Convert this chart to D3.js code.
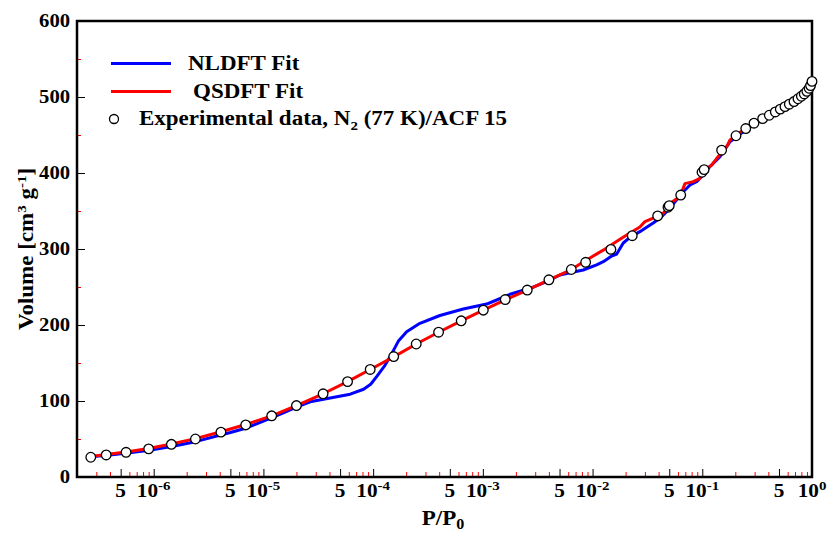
<!DOCTYPE html>
<html><head><meta charset="utf-8">
<script src="https://cdn.jsdelivr.net/npm/d3@7"></script>
<style>
body{margin:0;background:#fff}
text{font-family:"Liberation Serif","Times New Roman",serif;font-weight:bold;fill:#000}
</style>
</head><body><svg id="c" width="831" height="533"></svg>
<script>
// ---- data ----
const expP = [2.67e-7,3.69e-7,5.6e-7,9.0e-7,1.45e-6,2.4e-6,4.1e-6,6.9e-6,1.19e-5,2.0e-5,3.5e-5,5.85e-5,9.4e-5,1.54e-4,2.47e-4,3.95e-4,6.35e-4,1.01e-3,1.6e-3,2.54e-3,4.0e-3,6.4e-3,8.65e-3,1.47e-2,2.3e-2,3.92e-2,4.87e-2,5.0e-2,6.36e-2,9.94e-2,0.104,0.150,0.203,0.249,0.296,0.355,0.408,0.463,0.514,0.567,0.621,0.685,0.745,0.80,0.85,0.897,0.94,0.97,1.0];
const expV = [26,29,32.5,37,43,50,59,68.5,80.5,94,109.5,125.5,141.5,158.5,175,190.5,205.5,219.5,233.5,246,259.5,273,282.5,299.5,317.5,343.5,355,357,371,401,404.5,430,449,458.5,465.5,471.5,476,480.3,484,487.3,490.5,494,497.7,501,504,507.5,511.5,515,520.5];

const qsP = [2.67e-7,3.69e-7,5.6e-7,9.0e-7,1.45e-6,2.4e-6,4.1e-6,6.9e-6,1.19e-5,2.0e-5,3.5e-5,5.85e-5,9.4e-5,1.54e-4,2.47e-4,3.95e-4,6.35e-4,1.01e-3,1.6e-3,2.54e-3,4.0e-3,6.4e-3,8.22e-3,1.25e-2,1.72e-2,2.05e-2,2.70e-2,3.0e-2,3.57e-2,4.41e-2,5.07e-2,6.27e-2,6.95e-2,8.28e-2,9.53e-2,0.1057,0.122,0.135,0.167,0.179,0.206,0.237,0.272,0.30,0.355,0.41,0.50,0.60,0.70,0.80,0.90,0.95,1.0];
const qsV = [27,29.5,33,37.5,43.5,50.5,59.5,69,80.5,94,109.5,125.5,141.5,158,175,190.5,205.5,219.5,233,246,259.5,273,283,298.5,311.5,318.5,329,336,340.5,347,360,369,386,388.6,393,404,410.5,419,434.6,443.4,450,456.6,463,466.5,471.5,476,483,489,494.5,500.5,507,511,518];

const nlP = [2.67e-7,4e-7,6e-7,1e-6,1.5e-6,2.4e-6,4e-6,5e-6,7e-6,8e-6,1.2e-5,1.5e-5,2.0e-5,2.67e-5,4.06e-5,6.18e-5,8.19e-5,9.5e-5,1.077e-4,1.282e-4,1.475e-4,1.694e-4,2.02e-4,2.67e-4,4.06e-4,6.62e-4,1.084e-3,1.336e-3,1.767e-3,2.69e-3,3.82e-3,5.05e-3,6.22e-3,8.22e-3,1.089e-2,1.253e-2,1.494e-2,1.66e-2,1.905e-2,2.19e-2,2.70e-2,3.11e-2,3.57e-2,4.26e-2,5.08e-2,5.64e-2,6.71e-2,7.73e-2,8.89e-2,0.102,0.1175,0.135,0.145,0.179,0.206,0.25,0.30,0.355,0.41,0.50,0.60,0.70,0.80,0.90,0.95,1.0];
const nlV = [26.5,29,32,36,40.5,46.5,55,58.5,64.5,68,78,84,92,99,104,109,115.5,122,132,147,162,178.5,191.2,202.2,212.5,221,227.6,232.9,240.4,248.3,257,265.8,268.8,272.4,279,283.3,290.8,293.4,307.9,315.4,322.8,328.6,334.2,342.5,353.6,362.2,375.4,384.2,388.6,397.4,408.6,417,421.4,441.2,447.8,457,465,471,475.5,482,488,493.5,499.5,506,510,517];

const yTicks = [0,100,200,300,400,500,600];
const yMinorTicks = [50,150,250,350,450,550];
const xExponents = [-6,-5,-4,-3,-2,-1,0];
const fiveLabel = "5";
const legendLabels = ["NLDFT Fit","QSDFT Fit","Experimental data, N","2"," (77 K)/ACF 15"];
const colors = {nl:"#0000ff", qs:"#ff0000"};

// ---- layout ----
const W=831,H=533,L=77,R=812,T=21,B=477, SX=1.15;
const svg=d3.select("#c");
svg.append("rect").attr("width",W).attr("height",H).attr("fill","#fff");
const x=d3.scaleLog().domain([2e-7,1]).range([L,R]);
const y=d3.scaleLinear().domain([0,600]).range([B,T]);

const xMinor=[],xMajor=[];
for(let e=-7;e<=0;e++){for(let m=1;m<=9;m++){const v=m*Math.pow(10,e);if(v<2.01e-7||v>1.0001)continue;(m===1||m===5?xMajor:xMinor).push(v);}}

function clean(g){g.select(".domain").remove();g.attr("font-family",null).attr("font-size",null);}
svg.append("g").attr("transform",`translate(0,${B})`)
  .call(d3.axisBottom(x).tickValues(xMinor).tickSize(-5).tickFormat(""))
  .call(clean).selectAll("line").attr("stroke",colors.qs).attr("stroke-width",1);
svg.append("g").attr("transform",`translate(0,${B})`)
  .call(d3.axisBottom(x).tickValues(xMajor).tickSize(-8).tickFormat(""))
  .call(clean).selectAll("line").attr("stroke","#000").attr("stroke-width",1);
svg.append("g").attr("transform",`translate(${L},0)`)
  .call(d3.axisLeft(y).tickValues(yMinorTicks).tickSize(-4).tickFormat(""))
  .call(clean).selectAll("line").attr("stroke",colors.qs).attr("stroke-width",1);
const yg=svg.append("g").attr("transform",`translate(${L},0)`)
  .call(d3.axisLeft(y).tickValues(yTicks).tickSize(-8).tickPadding(6).tickFormat(d3.format("d")))
  .call(clean);
yg.selectAll("line").attr("stroke","#000").attr("stroke-width",1);
yg.selectAll("text").style("font-size","18px").attr("fill","#000").attr("transform",`scale(${SX},1)`);

// helper: stretched text at (px,py)
function stext(parent,px,py,size,anchor){
  return parent.append("text").attr("transform",`translate(${px},${py}) scale(${SX},1)`)
    .attr("text-anchor",anchor||"start").style("font-size",size+"px");
}

// x tick labels
const xl=svg.append("g");
xExponents.forEach(e=>{
  stext(xl,x(5*Math.pow(10,e-1)),497,18.5,"middle").text(fiveLabel);
  const t=stext(xl,x(Math.pow(10,e)),497,18.5,"middle");
  t.append("tspan").text("10");
  t.append("tspan").attr("dy",-7).style("font-size","13px").text(String(e));
});

// frame
svg.append("rect").attr("x",L).attr("y",T).attr("width",R-L).attr("height",B-T)
  .attr("fill","none").attr("stroke","#000").attr("stroke-width",2.5);

// curves
const line=d3.line().x(d=>x(d[0])).y(d=>y(d[1]));
svg.append("path").datum(d3.zip(nlP,nlV)).attr("d",line).attr("fill","none").attr("stroke",colors.nl).attr("stroke-width",3).attr("stroke-linejoin","round");
svg.append("path").datum(d3.zip(qsP,qsV)).attr("d",line).attr("fill","none").attr("stroke",colors.qs).attr("stroke-width",3).attr("stroke-linejoin","round");
svg.append("g").selectAll("circle").data(d3.zip(expP,expV)).join("circle")
  .attr("cx",d=>x(d[0])).attr("cy",d=>y(d[1])).attr("r",4.8)
  .attr("fill","#fff").attr("stroke","#000").attr("stroke-width",1.3);

// legend
const lg=svg.append("g");
lg.append("line").attr("x1",111).attr("x2",171).attr("y1",63.5).attr("y2",63.5).attr("stroke",colors.nl).attr("stroke-width",3);
lg.append("line").attr("x1",111).attr("x2",171).attr("y1",91.5).attr("y2",91.5).attr("stroke",colors.qs).attr("stroke-width",3);
lg.append("circle").attr("cx",114).attr("cy",119).attr("r",4.5).attr("fill","#fff").attr("stroke","#000").attr("stroke-width",1.3);
stext(lg,188,70,20).text(legendLabels[0]);
stext(lg,193,98,20).text(legendLabels[1]);
const et=stext(lg,139,125,20);
et.append("tspan").text(legendLabels[2]);
et.append("tspan").attr("dy",5).style("font-size","13px").text(legendLabels[3]);
et.append("tspan").attr("dy",-5).text(legendLabels[4]);

// axis titles
const xt=stext(svg,443,525,20,"middle");
xt.append("tspan").text("P/P");
xt.append("tspan").attr("dy",4).style("font-size","14px").text("0");
const yt=svg.append("text").attr("transform",`translate(33,249) rotate(-90) scale(${SX},1)`).attr("text-anchor","middle").style("font-size","20px");
yt.append("tspan").text("Volume [cm");
yt.append("tspan").attr("dy",-7).style("font-size","13px").text("3");
yt.append("tspan").attr("dy",7).text(" g");
yt.append("tspan").attr("dy",-7).style("font-size","13px").text("-1");
yt.append("tspan").attr("dy",7).text("]");
</script></body></html>
